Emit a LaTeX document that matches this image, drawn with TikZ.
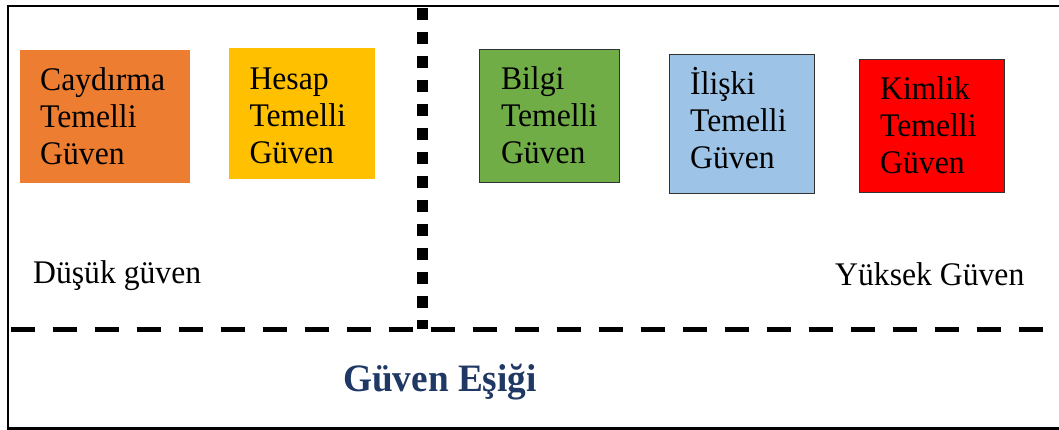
\documentclass[tikz,border=0pt]{standalone}
\usepackage{fontspec}
\setmainfont{Liberation Serif}[FakeStretch=0.96]
\definecolor{cayOrange}{HTML}{ED7D31}
\definecolor{hesYellow}{HTML}{FFC000}
\definecolor{bilGreen}{HTML}{70AD47}
\definecolor{ilsBlue}{HTML}{9DC3E6}
\definecolor{kimRed}{HTML}{FF0000}
\definecolor{esikBlue}{HTML}{1F3864}
\newcommand{\threelines}[3]{\begin{tabular}[t]{@{}l@{}}#1\\#2\\#3\end{tabular}}
\tikzset{
  trustbox/.style={rectangle, inner sep=0pt, anchor=north west},
  framedbox/.style={trustbox, draw=black!80, line width=1pt},
  boxtext/.style={inner sep=0pt, anchor=base west, font=\fontsize{33}{37}\selectfont},
  sidetext/.style={inner sep=0pt, anchor=base west, font=\fontsize{33}{37}\selectfont},
  esiktext/.style={inner sep=0pt, anchor=base west, text=esikBlue, font=\fontsize{38.8}{45}\selectfont\bfseries},
  frameline/.style={line width=2.5pt, line join=miter},
  vdots/.style={line width=11.6pt, dash pattern=on 12pt off 12pt},
  hdash/.style={line width=5.5pt, dash pattern=on 24pt off 18pt}
}
\begin{document}
\begin{tikzpicture}[x=1pt, y=-1pt]
\useasboundingbox (0,0) rectangle (1059,430);
\clip (0,0) rectangle (1059,430);

% outer frame, open on the right
\coordinate (ftr) at (1070,6);
\coordinate (ftl) at (8,6);
\coordinate (fbl) at (8,428.3);
\coordinate (fbr) at (1070,428.3);
\draw[frameline] (ftr) -- (ftl) -- (fbl) -- (fbr);

% trust type boxes
\node[trustbox, fill=cayOrange, minimum width=170.7pt, minimum height=133.3pt] (cay) at (19.3,50) {};
\node[trustbox, fill=hesYellow, minimum width=146.7pt, minimum height=131.6pt] (hes) at (228.3,47.7) {};
\node[framedbox, fill=bilGreen, minimum width=140pt, minimum height=132.4pt] (bil) at (479,49.3) {};
\node[framedbox, fill=ilsBlue, minimum width=145pt, minimum height=138.7pt] (ils) at (669,54) {};
\node[framedbox, fill=kimRed, minimum width=145pt, minimum height=132.7pt] (kim) at (858.8,59) {};

\node[boxtext] (caytxt) at (40,90.7) {\threelines{Caydırma}{Temelli}{Güven}};
\node[boxtext] (hestxt) at (249.3,89.3) {\threelines{Hesap}{Temelli}{Güven}};
\node[boxtext] (biltxt) at (500.8,89.3) {\threelines{Bilgi}{Temelli}{Güven}};
\node[boxtext] (ilstxt) at (690,94.3) {\threelines{İlişki}{Temelli}{Güven}};
\node[boxtext] (kimtxt) at (880,100) {\threelines{Kimlik}{Temelli}{Güven}};

% dividing lines
\coordinate (vtop) at (422.5,8.3);
\coordinate (vbot) at (422.5,329);
\draw[vdots] (vtop) -- (vbot);
\coordinate (hleft) at (10.7,329.4);
\coordinate (hright) at (1070,329.4);
\draw[hdash] (hleft) -- (hright);

% labels
\node[sidetext] (low) at (33,283) {Düşük güven};
\node[sidetext] (high) at (835,285) {Yüksek Güven};
\node[esiktext] (esik) at (343,391) {Güven Eşiği};
\end{tikzpicture}
\end{document}
